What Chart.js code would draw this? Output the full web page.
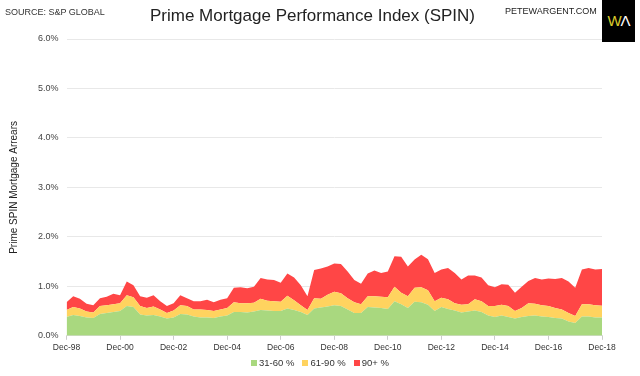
<!DOCTYPE html>
<html>
<head>
<meta charset="utf-8">
<script src="https://cdn.jsdelivr.net/npm/chart.js@4/dist/chart.umd.min.js"></script>
<style>
  html, body { margin: 0; padding: 0; background: #fff; }
  #wrap { position: relative; width: 640px; height: 376px; font-family: 'Liberation Sans', Arial, sans-serif; }
  #source { position: absolute; left: 5px; top: 7px; font-size: 9px; color: #333; }
  #title { position: absolute; left: 150px; width: 320px; top: 6px; text-align: center; font-size: 17px; color: #222; white-space: nowrap; }
  #site { position: absolute; left: 505px; top: 6px; font-size: 9px; color: #222; }
  #logo { position: absolute; left: 602px; top: 0; width: 33px; height: 42px; background: #000;
          font-size: 15px; line-height: 42px; text-align: center; letter-spacing: -1px; }
  #logo .w { color: #d9cc2b; }
  #logo .a { color: #fff; }
  #legend { position: absolute; left: 0; width: 640px; top: 357px; text-align: center; font-size: 9.5px; color: #333; line-height: 12px; }
  #legend span.item { display: inline-block; margin: 0 4px; }
  #legend i { display: inline-block; width: 6px; height: 6px; margin-right: 2px; vertical-align: 0px; }
</style>
</head>
<body>
<div id="wrap">
  <canvas id="chart" width="640" height="376"></canvas>
  <div id="source">SOURCE: S&amp;P GLOBAL</div>
  <div id="title">Prime Mortgage Performance Index (SPIN)</div>
  <div id="site">PETEWARGENT.COM</div>
  <div id="logo"><span class="w">W</span><span class="a">Λ</span></div>
  <div id="legend"></div>
</div>
<script>
// Quarterly readings, Dec-98 .. Dec-18 (percent of loans in arrears)
const quarters = [];
const months = ['Mar', 'Jun', 'Sep', 'Dec'];
for (let y = 1998; y <= 2018; y++) {
    months.forEach((m, i) => {
        if (y === 1998 && i < 3) return;
        quarters.push(m + '-' + String(y).slice(2));
    });
}

const days31to60 = [
    0.38, 0.42, 0.40, 0.37, 0.36, 0.44, 0.46, 0.48, 0.50, 0.60,
    0.58, 0.43, 0.41, 0.42, 0.39, 0.35, 0.37, 0.44, 0.43, 0.39,
    0.37, 0.37, 0.36, 0.39, 0.41, 0.48, 0.48, 0.47, 0.49, 0.52,
    0.51, 0.50, 0.50, 0.55, 0.52, 0.48, 0.42, 0.55, 0.57, 0.59,
    0.62, 0.60, 0.53, 0.46, 0.46, 0.58, 0.57, 0.56, 0.54, 0.70,
    0.64, 0.56, 0.69, 0.68, 0.63, 0.50, 0.58, 0.54, 0.51, 0.47,
    0.49, 0.51, 0.48, 0.41, 0.38, 0.41, 0.38, 0.35, 0.38, 0.40,
    0.41, 0.39, 0.38, 0.36, 0.35, 0.29, 0.26, 0.39, 0.39, 0.37,
    0.37
];
const days61to90 = [
    0.14, 0.16, 0.15, 0.12, 0.11, 0.16, 0.16, 0.16, 0.16, 0.22,
    0.20, 0.17, 0.15, 0.17, 0.14, 0.11, 0.14, 0.18, 0.17, 0.14,
    0.16, 0.15, 0.14, 0.14, 0.15, 0.20, 0.18, 0.19, 0.18, 0.23,
    0.20, 0.20, 0.19, 0.26, 0.20, 0.14, 0.10, 0.21, 0.18, 0.24,
    0.27, 0.26, 0.23, 0.22, 0.18, 0.22, 0.23, 0.23, 0.24, 0.29,
    0.23, 0.24, 0.28, 0.30, 0.29, 0.20, 0.19, 0.20, 0.15, 0.16,
    0.15, 0.23, 0.22, 0.19, 0.22, 0.22, 0.22, 0.15, 0.18, 0.26,
    0.24, 0.23, 0.22, 0.20, 0.18, 0.17, 0.14, 0.25, 0.25, 0.25,
    0.24
];
const days90plus = [
    0.16, 0.22, 0.20, 0.16, 0.15, 0.16, 0.17, 0.21, 0.16, 0.28,
    0.24, 0.20, 0.21, 0.23, 0.17, 0.14, 0.15, 0.20, 0.16, 0.17,
    0.17, 0.21, 0.18, 0.20, 0.20, 0.29, 0.32, 0.30, 0.32, 0.42,
    0.43, 0.43, 0.38, 0.45, 0.46, 0.40, 0.28, 0.57, 0.61, 0.57,
    0.57, 0.59, 0.54, 0.45, 0.41, 0.46, 0.52, 0.48, 0.52, 0.62,
    0.73, 0.60, 0.57, 0.66, 0.63, 0.57, 0.57, 0.63, 0.61, 0.51,
    0.58, 0.48, 0.48, 0.42, 0.38, 0.41, 0.43, 0.37, 0.43, 0.45,
    0.52, 0.52, 0.56, 0.59, 0.64, 0.64, 0.57, 0.70, 0.73, 0.72,
    0.74
];
const yTicks = [0, 1, 2, 3, 4, 5, 6];

const font = "'Liberation Sans', Arial, sans-serif";

function area(label, data, color, fill) {
    return {
        label: label,
        data: data,
        backgroundColor: color,
        borderColor: color,
        borderWidth: 0,
        pointRadius: 0,
        tension: 0,
        fill: fill
    };
}

const chart = new Chart(document.getElementById('chart'), {
    type: 'line',
    data: {
        labels: quarters,
        datasets: [
            area('31-60 %', days31to60, '#a9d87f', 'origin'),
            area('61-90 %', days61to90, '#ffd35f', '-1'),
            area('90+ %', days90plus, '#ff4646', '-1')
        ]
    },
    options: {
        responsive: false,
        animation: false,
        layout: { padding: { left: 4, right: 38, top: 39, bottom: 20 } },
        plugins: {
            legend: { display: false },
            tooltip: { enabled: false }
        },
        scales: {
            x: {
                offset: false,
                grid: {
                    drawOnChartArea: false,
                    tickLength: 4,
                    color: ctx => ctx.index % 8 === 0 ? '#cccccc' : 'rgba(0,0,0,0)'
                },
                border: { color: '#dddddd' },
                ticks: {
                    autoSkip: false,
                    maxRotation: 0,
                    padding: 3,
                    color: '#333',
                    font: { family: font, size: 8.5 },
                    callback: function(v, i) {
                        return i % 8 === 0 ? this.getLabelForValue(v) : '';
                    }
                }
            },
            y: {
                stacked: true,
                min: 0,
                max: 6,
                afterBuildTicks: axis => { axis.ticks = yTicks.map(v => ({ value: v })); },
                grid: { color: '#e8e8e8', drawTicks: false },
                border: { display: false },
                title: {
                    display: true,
                    text: 'Prime SPIN Mortgage Arrears',
                    color: '#222',
                    font: { family: font, size: 10 },
                    padding: { bottom: 10 }
                },
                ticks: {
                    padding: 8,
                    color: '#444',
                    font: { family: font, size: 9 },
                    callback: v => v.toFixed(1) + '%'
                }
            }
        }
    }
});

// legend built from the chart's own datasets
const legend = document.getElementById('legend');
chart.data.datasets.forEach(ds => {
    const item = document.createElement('span');
    item.className = 'item';
    const box = document.createElement('i');
    box.style.background = ds.backgroundColor;
    item.appendChild(box);
    item.appendChild(document.createTextNode(ds.label));
    legend.appendChild(item);
});
</script>
</body>
</html>
